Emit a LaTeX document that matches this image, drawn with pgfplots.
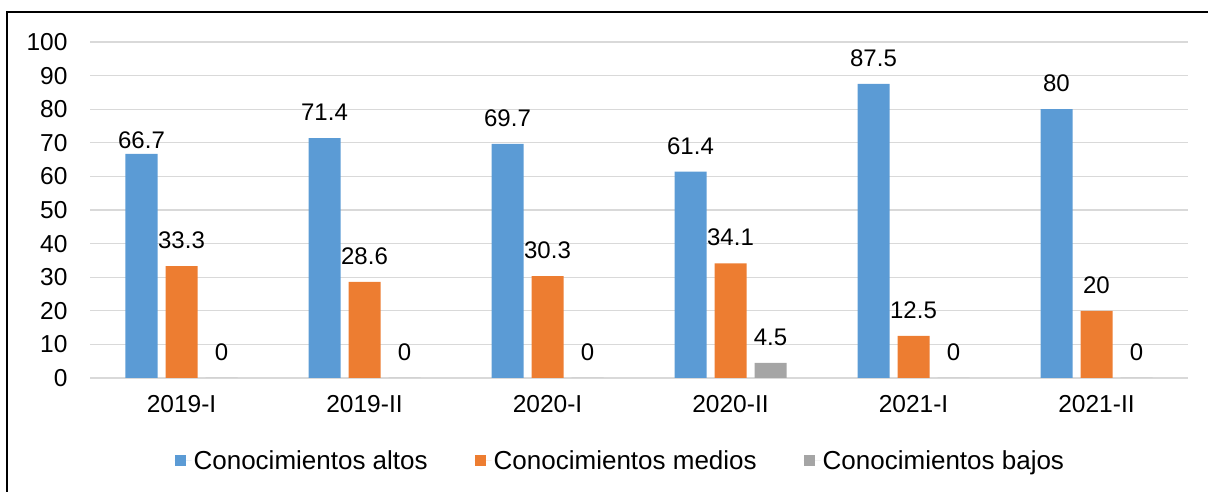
\documentclass[border=0pt]{standalone}
\usepackage{pgfplots}
\pgfplotsset{compat=1.18}
\usepackage{fontspec}
\setmainfont{Liberation Sans}
\definecolor{cblue}{HTML}{5B9BD5}
\definecolor{corange}{HTML}{ED7D31}
\definecolor{cgray}{HTML}{A5A5A5}
\definecolor{cgrid}{HTML}{D9D9D9}
\begin{document}
\begin{tikzpicture}[x=1pt,y=1pt]
\useasboundingbox (0,0) rectangle (1208,492);
\draw[line width=1.5pt] (7,-10) -- (7,480) -- (1220,480);
\begin{axis}[
  at={(90pt,114pt)}, anchor=south west,
  scale only axis, width=1098pt, height=336pt,
  ymin=0, ymax=100, ytick={0,10,...,100},
  xmin=-0.5, xmax=5.5,
  xtick={0,1,2,3,4,5},
  xticklabels={2019-I,2019-II,2020-I,2020-II,2021-I,2021-II},
  ybar, bar width=32pt,
  /pgf/number format/assume math mode=true,
  ymajorgrids, grid style={draw=cgrid, line width=1.2pt},
  axis x line=bottom, axis y line=left,
  x axis line style={draw=cgrid, line width=1.2pt, -},
  y axis line style={draw=none},
  major tick length=0pt,
  tick label style={font=\fontsize{24.5}{28}\selectfont, text=black},
  yticklabel style={xshift=-19pt},
  xticklabel style={yshift=-14pt},
  legend style={draw=none, at={(0.483,-0.247)}, anchor=center, legend columns=3,
    font=\fontsize{26}{30}\selectfont,
    /tikz/every even column/.append style={column sep=45pt},
    nodes={inner sep=2pt}},
  legend image code/.code={\path (0pt,0pt) -- (17pt,0pt); \fill[#1] (0pt,-5.5pt) rectangle (11pt,5.5pt);},
]
\addplot[fill=cblue, draw=none, bar shift=-40pt,
  visualization depends on={\thisrow{dy} \as \dy},
  nodes near coords,
  every node near coord/.append style={font=\fontsize{24}{28}\selectfont, text=black, inner sep=0pt, anchor=south, yshift=\dy pt}]
  table[x=x, y=y] {
x y dy
0 66.7 5
1 71.4 17
2 69.7 17
3 61.4 17
4 87.5 17
5 80 17
};
\addplot[fill=corange, draw=none, bar shift=0pt,
  nodes near coords,
  every node near coord/.append style={font=\fontsize{24}{28}\selectfont, text=black, inner sep=0pt, anchor=south, yshift=17pt}]
  coordinates {(0,33.3) (1,28.6) (2,30.3) (3,34.1) (4,12.5) (5,20)};
\addplot[fill=cgray, draw=none, bar shift=40pt,
  nodes near coords,
  every node near coord/.append style={font=\fontsize{24}{28}\selectfont, text=black, inner sep=0pt, anchor=south, yshift=17pt}]
  coordinates {(0,0) (1,0) (2,0) (3,4.5) (4,0) (5,0)};
\legend{Conocimientos altos, Conocimientos medios, Conocimientos bajos}
\end{axis}
\end{tikzpicture}
\end{document}
